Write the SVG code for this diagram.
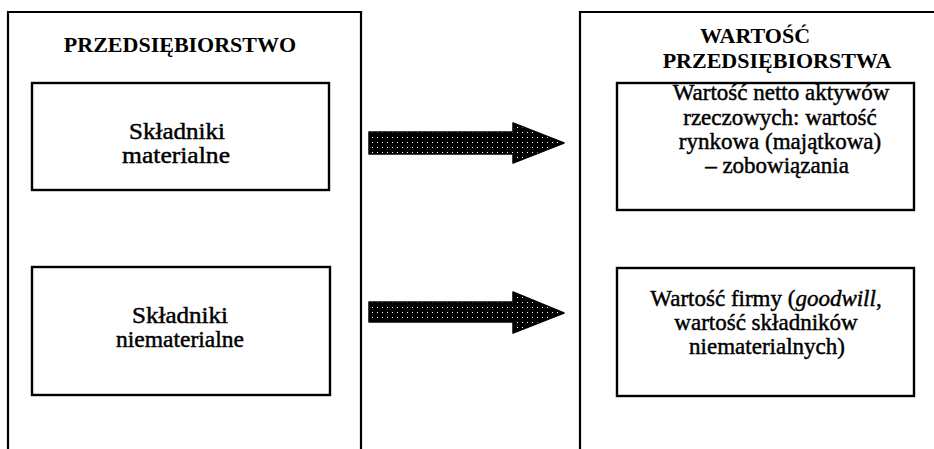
<svg xmlns="http://www.w3.org/2000/svg" width="934" height="449" viewBox="0 0 934 449">
  <style>
    .frame { fill: none; stroke: #000; stroke-width: 2.2; }
    .box { fill: #fff; stroke: #000; stroke-width: 2.4; }
    .head { font-family: "Liberation Serif", "Times New Roman", serif; font-weight: bold; font-size: 22px; fill: #000; text-anchor: middle; }
    .lbl { font-family: "Liberation Serif", "Times New Roman", serif; font-size: 23px; fill: #000; stroke: #000; stroke-width: 0.45; text-anchor: middle; }
    .arrow { fill: url(#dots); stroke: #000; stroke-width: 1.5; stroke-linejoin: round; }
  </style>
  <defs>
    <pattern id="dots" width="5" height="5" patternUnits="userSpaceOnUse">
      <rect width="5" height="5" fill="#000"/>
      <rect x="2" y="2" width="1" height="1" fill="#fff"/>
    </pattern>
  </defs>

  <rect width="934" height="449" fill="#fff"/>

  <!-- left column: the enterprise and its components -->
  <g id="enterprise">
    <path class="frame" d="M8,449 V12 H361 V449"/>
    <text class="head" x="180" y="52" font-size="24">PRZEDSIĘBIORSTWO</text>
  </g>
  <g id="tangible">
    <rect class="box" x="32" y="83" width="297" height="107"/>
    <text class="lbl" x="177" y="139" textLength="96" lengthAdjust="spacingAndGlyphs">Składniki</text>
    <text class="lbl" x="176" y="163" textLength="108" lengthAdjust="spacingAndGlyphs">materialne</text>
  </g>
  <g id="intangible">
    <rect class="box" x="32" y="267" width="298" height="128"/>
    <text class="lbl" x="180" y="323" textLength="96" lengthAdjust="spacingAndGlyphs">Składniki</text>
    <text class="lbl" x="180" y="347" textLength="128" lengthAdjust="spacingAndGlyphs">niematerialne</text>
  </g>

  <!-- right column: value of the enterprise -->
  <g id="enterprise-value">
    <path class="frame" d="M580,449 V12 H934"/>
    <text class="head" x="755" y="43">WARTOŚĆ</text>
    <text class="head" x="777" y="68">PRZEDSIĘBIORSTWA</text>
  </g>
  <g id="net-assets">
    <rect class="box" x="617" y="83" width="297" height="127"/>
    <text class="lbl" x="781" y="100">Wartość netto aktywów</text>
    <text class="lbl" x="780" y="125">rzeczowych: wartość</text>
    <text class="lbl" x="780" y="149">rynkowa (majątkowa)</text>
    <text class="lbl" x="777" y="173">– zobowiązania</text>
  </g>
  <g id="goodwill">
    <rect class="box" x="617" y="268" width="297" height="128"/>
    <text class="lbl" x="766" y="306">Wartość firmy (<tspan font-style="italic">goodwill</tspan>,</text>
    <text class="lbl" x="766" y="330">wartość składników</text>
    <text class="lbl" x="767" y="354">niematerialnych)</text>
  </g>

  <!-- connectors -->
  <g id="connectors">
    <path class="arrow" d="M369,132 H513 V123 L564,143 L513,163 V154 H369 Z"/>
    <path class="arrow" d="M369,302 H513 V292 L564,313 L513,333 V322 H369 Z"/>
  </g>
</svg>
